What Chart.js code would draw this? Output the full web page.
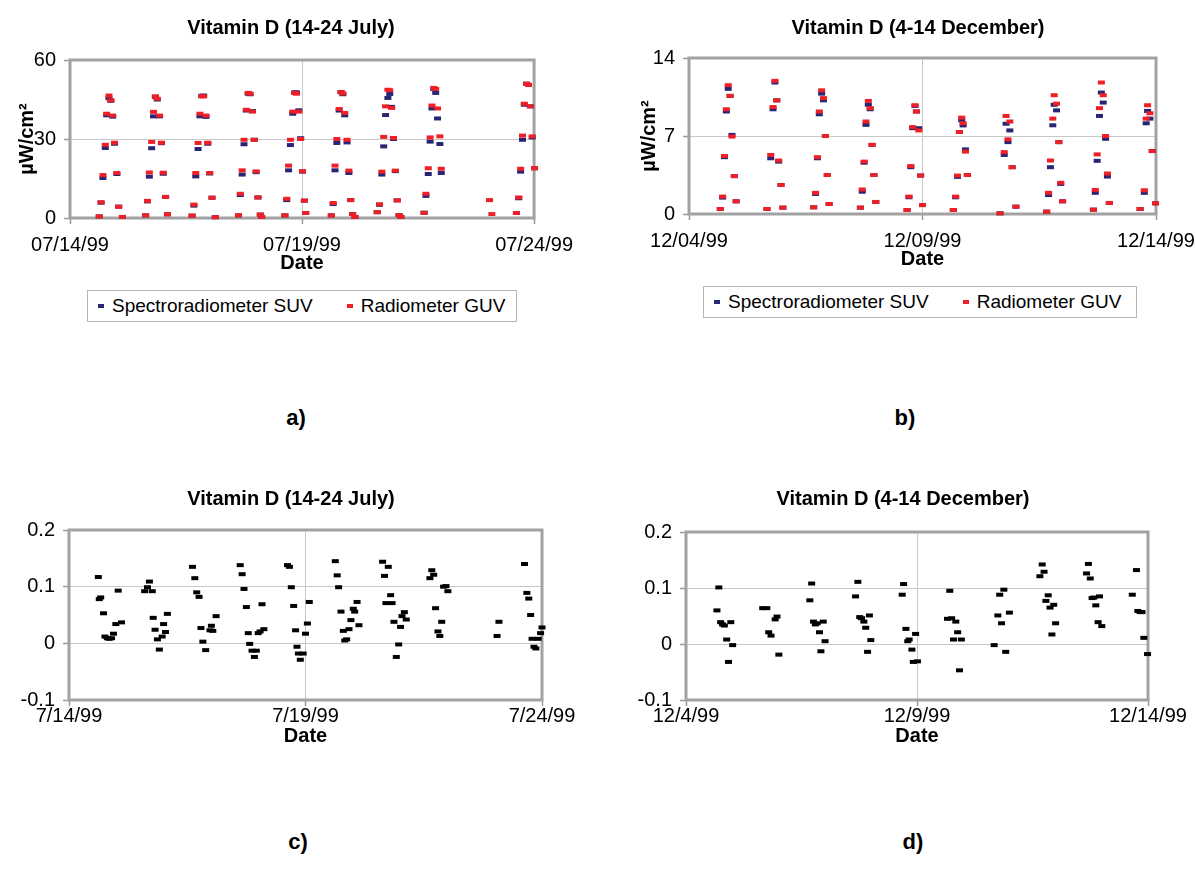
<!DOCTYPE html>
<html>
<head>
<meta charset="utf-8">
<script src="https://cdn.jsdelivr.net/npm/chart.js@4.4.1/dist/chart.umd.min.js"></script>
<style>
  html, body { margin: 0; padding: 0; background: #fff; overflow: hidden; }
  body { width: 1196px; height: 879px; position: relative; font-family: 'Liberation Sans', Arial, sans-serif; color: #000; }
  canvas { position: absolute; }
  .legend { position: absolute; box-sizing: border-box; height: 32px; border: 1px solid #b4b4b4;
            display: flex; align-items: center; padding-left: 10px; font-size: 19px; white-space: nowrap; }
  .legend .item { display: flex; align-items: center; }
  .legend .dash { display: inline-block; width: 6px; height: 4px; margin-right: 8px; }
  .panel-label { position: absolute; font-weight: bold; font-size: 22px; transform: translate(-50%, -50%); }
</style>
</head>
<body>
<canvas id="chartA" width="582" height="275" style="left:0px;top:0px"></canvas>
<canvas id="chartB" width="600" height="271" style="left:618px;top:0px"></canvas>
<canvas id="chartC" width="582" height="268" style="left:0px;top:480px"></canvas>
<canvas id="chartD" width="570" height="268" style="left:618px;top:480px"></canvas>
<div class="legend" id="legendA" style="left:87px;top:290px;width:430px"></div>
<div class="legend" id="legendB" style="left:703px;top:286px;width:434px"></div>
<div class="panel-label" style="left:296px;top:418px">a)</div>
<div class="panel-label" style="left:905px;top:418px">b)</div>
<div class="panel-label" style="left:298px;top:842px">c)</div>
<div class="panel-label" style="left:913px;top:842px">d)</div>

<script>
Chart.defaults.font.family = "'Liberation Sans', Arial, sans-serif";
Chart.defaults.font.size = 20;
Chart.defaults.color = '#000';

// x values are days after the first date tick (0 = 00:00 of the first day)
const dateTickValues = [0, 5, 10];
const julyTicksTop = ['07/14/99', '07/19/99', '07/24/99'];
const decTicksTop = ['12/04/99', '12/09/99', '12/14/99'];
const julyTicksBottom = ['7/14/99', '7/19/99', '7/24/99'];
const decTicksBottom = ['12/4/99', '12/9/99', '12/14/99'];

const julyIrrTicks = [0, 30, 60];
const decIrrTicks = [0, 7, 14];
const ratioTicks = [-0.1, 0, 0.1, 0.2];
const ratioTickLabels = ['-0.1', '0', '0.1', '0.2'];

// a) Vitamin D, 14-24 July, uW/cm2
const julyTime = [
  0.63, 0.67, 0.71, 0.76, 0.79, 0.84, 0.88, 0.92, 0.96, 1.01, 1.05, 1.13,
  1.63, 1.67, 1.71, 1.76, 1.80, 1.84, 1.88, 1.93, 1.97, 2.01, 2.06, 2.10,
  2.63, 2.67, 2.71, 2.76, 2.80, 2.84, 2.88, 2.93, 2.97, 3.01, 3.06, 3.13,
  3.63, 3.67, 3.71, 3.75, 3.80, 3.84, 3.88, 3.93, 3.97, 4.01, 4.05, 4.10, 4.13,
  4.63, 4.67, 4.71, 4.75, 4.80, 4.84, 4.88, 4.93, 4.97, 5.01, 5.05, 5.08,
  5.63, 5.67, 5.71, 5.75, 5.80, 5.84, 5.88, 5.92, 5.97, 6.01, 6.05, 6.09, 6.14,
  6.62, 6.67, 6.72, 6.76, 6.80, 6.85, 6.89, 6.93, 6.97, 7.01, 7.05, 7.09, 7.13,
  7.63, 7.67, 7.72, 7.76, 7.80, 7.84, 7.88, 7.92, 7.97, 8.00,
  9.04, 9.09,
  9.62, 9.67, 9.71, 9.75, 9.79, 9.84, 9.88, 9.92, 9.96, 10.01, 10.04
];
const julySUV = [
  0.6, 5.8, 15.2, 26.6, 39.0, 45.5, 44.5, 38.5, 28.2, 16.7, 4.3, 0.4,
  1.0, 6.3, 15.7, 26.5, 38.6, 46.0, 45.0, 38.6, 28.4, 16.8, 8.0, 1.4,
  0.9, 4.7, 15.8, 26.2, 38.6, 46.4, 46.5, 38.4, 28.2, 16.9, 7.7, 0.3,
  1.0, 8.7, 16.5, 28.0, 40.8, 47.2, 47.0, 40.6, 29.7, 17.4, 7.8, 1.3, 0.4,
  1.0, 6.8, 18.1, 27.7, 39.6, 47.7, 47.7, 40.9, 30.3, 17.6, 6.6, 1.9,
  1.0, 5.3, 18.1, 28.5, 40.8, 47.8, 47.0, 39.0, 28.7, 17.1, 6.8, 1.5, 0.4,
  2.2, 5.0, 16.5, 27.2, 39.1, 45.6, 47.1, 42.2, 30.0, 17.8, 6.7, 1.1, 0.4,
  2.0, 8.4, 16.7, 29.0, 41.6, 49.0, 47.5, 37.8, 28.1, 17.1,
  null, null,
  1.9, 7.5, 17.6, 29.7, 43.0, 51.0, 50.5, 42.4, 30.6, 18.9, 7.1
];
const julyGUV = [
  0.6, 6.0, 16.3, 27.8, 39.6, 46.5, 44.7, 38.9, 28.6, 17.1, 4.3, 0.4,
  1.0, 6.5, 17.3, 28.9, 40.3, 46.2, 45.3, 38.9, 28.6, 17.2, 8.0, 1.4,
  0.9, 5.1, 17.1, 28.5, 39.6, 46.2, 46.2, 38.9, 28.6, 17.1, 7.7, 0.3,
  1.0, 9.2, 18.1, 29.7, 41.1, 47.5, 47.2, 40.4, 29.7, 17.7, 7.8, 1.3, 0.4,
  1.0, 7.3, 19.9, 29.7, 40.4, 47.5, 47.2, 40.4, 30.0, 17.8, 6.6, 1.9,
  1.0, 5.7, 19.9, 30.0, 41.4, 47.8, 47.3, 39.9, 29.7, 18.0, 6.8, 1.5, 0.4,
  2.2, 5.2, 17.6, 30.8, 42.4, 48.7, 48.5, 41.8, 30.4, 18.0, 6.7, 1.1, 0.4,
  2.0, 9.2, 18.9, 30.6, 42.7, 49.4, 49.0, 41.6, 31.0, 18.7,
  6.8, 1.5,
  1.9, 7.8, 18.7, 31.3, 43.4, 51.0, 50.5, 42.4, 31.0, 18.9, 7.1
];

// b) Vitamin D, 4-14 December, uW/cm2
const decTime = [
  0.67, 0.72, 0.76, 0.80, 0.84, 0.88, 0.92, 0.97, 1.01,
  1.67, 1.75, 1.80, 1.84, 1.88, 1.92, 1.97, 2.01,
  2.67, 2.71, 2.75, 2.79, 2.84, 2.88, 2.92, 2.96, 3.00,
  3.67, 3.71, 3.75, 3.79, 3.84, 3.88, 3.92, 3.96, 4.00,
  4.67, 4.71, 4.75, 4.79, 4.84, 4.87, 4.92, 4.96, 5.00,
  5.66, 5.71, 5.75, 5.79, 5.84, 5.87, 5.92, 5.96,
  6.66, 6.75, 6.79, 6.83, 6.87, 6.92, 7.00,
  7.66, 7.70, 7.74, 7.79, 7.82, 7.87, 7.92, 7.96, 8.00,
  8.66, 8.70, 8.74, 8.79, 8.83, 8.87, 8.92, 8.96, 9.00,
  9.66, 9.75, 9.79, 9.82, 9.87, 9.92, 9.99
];
const decSUV = [
  0.45, 1.47, 5.1, 9.2, 11.23, 10.6, 7.1, 3.4, 1.14,
  0.45, 5.0, 9.4, 11.8, 10.2, 4.7, 2.6, 0.57,
  0.6, 1.8, 5.0, 8.95, 10.8, 10.2, 7.0, 3.5, 0.9,
  0.57, 2.0, 4.6, 8.0, 9.8, 9.4, 6.2, 3.5, 1.08,
  0.36, 1.5, 4.2, 7.7, 9.7, 9.2, 7.7, 3.45, 0.8,
  0.36, 1.5, 3.33, 7.36, 8.4, 7.95, 5.8, 3.5,
  0.06, 5.3, 8.1, 6.45, 7.5, 4.2, 0.66,
  0.21, 1.7, 4.2, 7.96, 9.8, 9.3, 6.45, 2.7, 1.14,
  0.39, 1.9, 4.77, 8.8, 10.9, 10.0, 6.75, 3.36, 0.99,
  0.45, 1.9, 8.14, 9.25, 8.56, 5.65, 0.96
];
const decGUV = [
  0.45, 1.56, 5.2, 9.4, 11.56, 10.6, 6.95, 3.4, 1.14,
  0.45, 5.3, 9.6, 11.95, 10.2, 4.8, 2.6, 0.57,
  0.6, 1.9, 5.1, 9.2, 11.1, 10.4, 7.0, 3.5, 0.9,
  0.57, 2.2, 4.7, 8.3, 10.15, 9.5, 6.2, 3.5, 1.08,
  0.36, 1.56, 4.3, 7.8, 9.76, 9.2, 7.5, 3.45, 0.8,
  0.36, 1.56, 3.45, 7.36, 8.65, 8.15, 5.6, 3.5,
  0.06, 5.55, 8.8, 6.7, 8.3, 4.2, 0.66,
  0.21, 1.9, 4.8, 8.56, 10.66, 9.9, 6.45, 2.8, 1.14,
  0.39, 2.16, 5.35, 9.5, 11.8, 10.66, 7.0, 3.63, 0.99,
  0.45, 2.13, 8.56, 9.76, 9.04, 5.65, 0.96
];

// c) July, relative difference
const julyRatioTime = [
  0.62, 0.64, 0.67, 0.73, 0.76, 0.81, 0.85, 0.90, 0.94, 0.99, 1.04, 1.11,
  1.60, 1.66, 1.70, 1.76, 1.78, 1.82, 1.87, 1.91, 1.97, 2.00, 2.04, 2.08,
  2.61, 2.66, 2.70, 2.75, 2.79, 2.83, 2.89, 2.98, 3.01, 3.04, 3.11,
  3.62, 3.66, 3.70, 3.75, 3.79, 3.82, 3.87, 3.92, 3.96, 4.00, 4.04, 4.08, 4.12,
  4.62, 4.66, 4.70, 4.75, 4.79, 4.82, 4.85, 4.89, 4.95, 5.00, 5.04, 5.08,
  5.63, 5.67, 5.70, 5.75, 5.80, 5.83, 5.87, 5.92, 5.96, 6.01, 6.04, 6.09, 6.13,
  6.63, 6.67, 6.70, 6.75, 6.80, 6.83, 6.87, 6.92, 6.97, 7.01, 7.04, 7.09, 7.13,
  7.63, 7.67, 7.71, 7.75, 7.80, 7.84, 7.88, 7.92, 7.97, 8.01,
  9.05, 9.09,
  9.63, 9.68, 9.72, 9.76, 9.79, 9.83, 9.87, 9.92, 9.97, 10.00, 10.03
];
const julyRatio = [
  0.117, 0.078, 0.081, 0.053, 0.012, 0.009, 0.008, 0.009, 0.017, 0.034, 0.093, 0.037,
  0.092, 0.099, 0.109, 0.092, 0.045, 0.024, 0.007, -0.011, 0.012, 0.034, 0.020, 0.052,
  0.135, 0.115, 0.090, 0.082, 0.027, 0.003, -0.012, 0.023, 0.031, 0.022, 0.048,
  0.138, 0.122, 0.096, 0.064, 0.018, -0.001, -0.013, -0.024, -0.013, 0.018, 0.021, 0.069, 0.025,
  0.138, 0.135, 0.099, 0.066, 0.023, -0.006, -0.018, -0.029, -0.018, 0.017, 0.035, 0.073,
  0.145, 0.120, 0.099, 0.056, 0.022, 0.005, 0.007, 0.025, 0.041, 0.061, 0.056, 0.073, 0.032,
  0.144, 0.119, 0.071, 0.135, 0.085, 0.071, 0.038, -0.024, -0.002, 0.029, 0.048, 0.055, 0.042,
  0.115, 0.129, 0.121, 0.062, 0.021, 0.013, 0.038, 0.100, 0.101, 0.092,
  0.013, 0.038,
  0.140, 0.089, 0.079, 0.050, 0.008, -0.006, -0.009, 0.008, 0.018, 0.028, 0.032
];

// d) December, relative difference
const decRatioTime = [
  0.67, 0.71, 0.75, 0.79, 0.83, 0.88, 0.92, 0.97, 1.01,
  1.66, 1.75, 1.79, 1.84, 1.93, 1.97, 2.01,
  2.68, 2.72, 2.76, 2.80, 2.84, 2.89, 2.92, 2.97, 3.01,
  3.67, 3.72, 3.76, 3.80, 3.85, 3.89, 3.93, 3.97, 4.00,
  4.68, 4.71, 4.76, 4.80, 4.83, 4.89, 4.92, 4.97, 5.01,
  5.66, 5.71, 5.75, 5.79, 5.84, 5.88, 5.92, 5.96,
  6.67, 6.75, 6.79, 6.83, 6.88, 6.92, 7.00,
  7.66, 7.71, 7.75, 7.79, 7.84, 7.88, 7.92, 7.96, 8.00,
  8.67, 8.71, 8.75, 8.79, 8.83, 8.87, 8.92, 8.95, 9.00,
  9.66, 9.75, 9.78, 9.83, 9.87, 9.91, 9.99
];
const decRatio = [
  0.060, 0.101, 0.039, 0.035, 0.033, 0.008, -0.032, 0.039, -0.002,
  0.064, 0.064, 0.021, 0.015, 0.044, 0.049, -0.019,
  0.078, 0.108, 0.040, 0.035, 0.037, 0.021, -0.013, 0.040, 0.005,
  0.085, 0.111, 0.048, 0.046, 0.040, 0.029, -0.014, 0.051, 0.007,
  0.088, 0.107, 0.027, 0.005, 0.008, -0.010, -0.032, 0.018, -0.031,
  0.045, 0.095, 0.046, 0.008, 0.040, 0.021, -0.047, 0.008,
  -0.002, 0.051, 0.088, 0.037, 0.097, -0.014, 0.056,
  0.121, 0.142, 0.129, 0.077, 0.087, 0.065, 0.017, 0.070, 0.037,
  0.126, 0.143, 0.117, 0.082, 0.083, 0.069, 0.039, 0.085, 0.032,
  0.088, 0.132, 0.059, 0.057, 0.057, 0.011, -0.018
];

const SUV_COLOR = '#262674';
const GUV_COLOR = '#ee1f26';
const DIFF_COLOR = '#000000';

const points = (xs, ys) => xs.map((x, i) => ({ x: x, y: ys[i] }));
const fixedTicks = values => scale => { scale.ticks = values.map(v => ({ value: v })); };

const gridStyle = { color: '#c8c8c8', lineWidth: 1, drawTicks: true, tickLength: 6, tickColor: '#9a9a9a', tickWidth: 1.5 };

// grey box round the plot area, drawn under the marks
const plotFrame = {
    id: 'plotFrame',
    beforeDatasetsDraw(chart) {
        const { ctx, chartArea } = chart;
        ctx.save();
        ctx.strokeStyle = '#a2a2a2';
        ctx.lineWidth = 3;
        ctx.strokeRect(chartArea.left, chartArea.top, chartArea.right - chartArea.left, chartArea.bottom - chartArea.top);
        ctx.restore();
    }
};

function makeChart(id, o) {
    const datasets = o.series.map(s => ({
        label: s.label,
        data: points(s.x, s.y),
        pointStyle: 'line',
        pointRadius: 3.5,
        pointBorderWidth: 4,
        borderWidth: 4,
        borderColor: s.color,
        backgroundColor: s.color,
        pointBorderColor: s.color,
        clip: 8
    }));

    return new Chart(document.getElementById(id), {
        type: 'scatter',
        data: { datasets: datasets },
        plugins: [plotFrame],
        options: {
            responsive: false,
            animation: false,
            events: [],
            layout: { padding: 0 },
            plugins: {
                legend: { display: false },
                tooltip: { enabled: false },
                title: {
                    display: true,
                    text: o.title,
                    font: { size: 20, weight: 'bold' },
                    padding: { top: o.titleTop, bottom: o.titleBottom }
                }
            },
            scales: {
                x: {
                    type: 'linear',
                    min: 0,
                    max: 10,
                    afterBuildTicks: fixedTicks(dateTickValues),
                    afterFit: s => { s.height = o.xHeight; },
                    ticks: { callback: (v, i) => o.xLabels[i], padding: o.xTickPad, maxRotation: 0, autoSkip: false },
                    grid: gridStyle,
                    border: { display: false },
                    title: { display: true, text: 'Date', font: { size: 20, weight: 'bold' }, padding: { top: 0, bottom: 0 } }
                },
                y: {
                    type: 'linear',
                    min: o.yTicks[0],
                    max: o.yTicks[o.yTicks.length - 1],
                    afterBuildTicks: fixedTicks(o.yTicks),
                    afterFit: s => { s.width = o.yWidth; },
                    ticks: { callback: (v, i) => o.yLabels[i], padding: 8, autoSkip: false },
                    grid: gridStyle,
                    border: { display: false },
                    title: o.yTitle
                        ? { display: true, text: o.yTitle, font: { size: 20, weight: 'bold' }, padding: { top: o.yTitlePad, bottom: 0 } }
                        : { display: false }
                },
                // empty right-hand axis, only reserves room so the title centres like the original
                spacer: {
                    type: 'linear',
                    position: 'right',
                    display: true,
                    ticks: { display: false },
                    grid: { display: false, drawTicks: false },
                    border: { display: false },
                    afterFit: s => { s.width = o.rightWidth; }
                }
            }
        }
    });
}

function buildLegend(chart, id) {
    const box = document.getElementById(id);
    [...chart.data.datasets].reverse().forEach((ds, i) => {
        const item = document.createElement('span');
        item.className = 'item';
        if (i > 0) item.style.marginLeft = '34px';
        const dash = document.createElement('span');
        dash.className = 'dash';
        dash.style.background = ds.borderColor;
        const text = document.createElement('span');
        text.textContent = ds.label;
        item.append(dash, text);
        box.append(item);
    });
}

const chartA = makeChart('chartA', {
    title: 'Vitamin D (14-24 July)', titleTop: 16, titleBottom: 20,
    xLabels: julyTicksTop, xHeight: 57, xTickPad: 9,
    yTicks: julyIrrTicks, yLabels: julyIrrTicks.map(String), yWidth: 70,
    yTitle: 'µW/cm²', yTitlePad: 15, rightWidth: 45,
    series: [
        { label: 'Radiometer GUV', x: julyTime, y: julyGUV, color: GUV_COLOR },
        { label: 'Spectroradiometer SUV', x: julyTime, y: julySUV, color: SUV_COLOR }
    ]
});

const chartB = makeChart('chartB', {
    title: 'Vitamin D (4-14 December)', titleTop: 16, titleBottom: 18,
    xLabels: decTicksTop, xHeight: 57, xTickPad: 9,
    yTicks: decIrrTicks, yLabels: decIrrTicks.map(String), yWidth: 71,
    yTitle: 'µW/cm²', yTitlePad: 19, rightWidth: 62,
    series: [
        { label: 'Radiometer GUV', x: decTime, y: decGUV, color: GUV_COLOR },
        { label: 'Spectroradiometer SUV', x: decTime, y: decSUV, color: SUV_COLOR }
    ]
});

makeChart('chartC', {
    title: 'Vitamin D (14-24 July)', titleTop: 7, titleBottom: 19,
    xLabels: julyTicksBottom, xHeight: 48, xTickPad: -2,
    yTicks: ratioTicks, yLabels: ratioTickLabels, yWidth: 69,
    yTitle: null, rightWidth: 40,
    series: [{ label: 'difference', x: julyRatioTime, y: julyRatio, color: DIFF_COLOR }]
});

makeChart('chartD', {
    title: 'Vitamin D (4-14 December)', titleTop: 7, titleBottom: 21,
    xLabels: decTicksBottom, xHeight: 48, xTickPad: -2,
    yTicks: ratioTicks, yLabels: ratioTickLabels, yWidth: 68,
    yTitle: null, rightWidth: 40,
    series: [{ label: 'difference', x: decRatioTime, y: decRatio, color: DIFF_COLOR }]
});

buildLegend(chartA, 'legendA');
buildLegend(chartB, 'legendB');
</script>
</body>
</html>
